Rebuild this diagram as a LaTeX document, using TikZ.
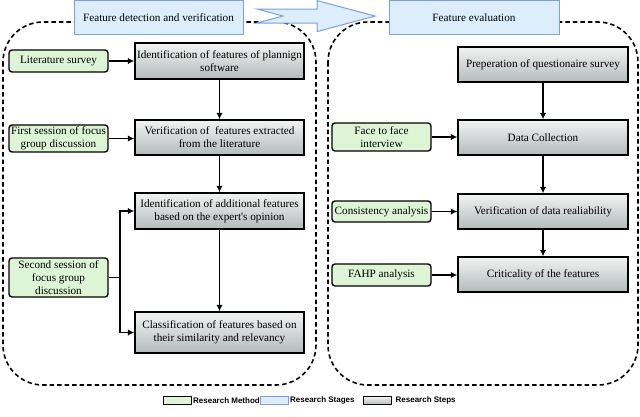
\documentclass[tikz,border=0pt]{standalone}
\usepackage{fontspec}
\setmainfont{Liberation Serif}
\newfontfamily\legendfont{Liberation Sans}
\usetikzlibrary{arrows.meta}
\definecolor{mgreen}{HTML}{DDF5D5}
\definecolor{sblue}{HTML}{DCEEFB}
\definecolor{sborder}{HTML}{7E9FD8}
\definecolor{gtop}{HTML}{F2F3F3}
\definecolor{gbot}{HTML}{B4BABA}
\begin{document}
\begin{tikzpicture}[x=1pt,y=-1pt,
  font=\fontsize{11.2}{13}\selectfont,
  method/.style={draw=black, line width=1.4pt, rounded corners=3pt, fill=mgreen,
    align=center, inner sep=1pt, minimum width=99pt},
  stepbox/.style={draw=black, line width=1.4pt, top color=gtop, bottom color=gbot,
    align=center, inner sep=1pt, minimum width=169pt},
  stage/.style={draw=sborder, line width=1pt, fill=sblue, align=center,
    minimum width=169pt, minimum height=34pt},
  region/.style={draw=black, dash pattern=on 4.5pt off 3pt, rounded corners=40pt, line width=1.6pt},
  conn/.style={-{Latex[length=6.5pt,width=6.5pt]}, line width=1.4pt},
  legbox/.style={line width=0.9pt, minimum width=28pt, minimum height=8pt, inner sep=0pt},
  legtext/.style={font=\legendfont\bfseries\fontsize{8}{9}\selectfont, inner sep=1.5pt, anchor=west}]
\useasboundingbox (0,0) rectangle (640,416);

% dashed regions
\draw[region] (3,22) rectangle (316,385);
\draw[region] (328,22) rectangle (638,385);

% stage boxes
\node[stage] (st1) at (158.5,17.5) {Feature detection and verification};
\node[stage, minimum width=170pt] (st2) at (474,17.5) {Feature evaluation};
\draw[sborder, fill=sblue, line width=1pt]
  (257,9) -- (317,9) -- (317,0.6) -- (375,16) -- (317,31.6) -- (317,23) -- (257,23) -- (283,16) -- cycle;

% left steps
\node[stepbox, minimum height=36pt] (id1) at (219.5,61) {Identification of features of plannign\\software};
\node[stepbox, minimum height=35pt] (ver) at (219.5,137.5) {Verification of\ \ features extracted\\from the literature};
\node[stepbox, minimum height=36pt] (addl) at (219.5,211) {Identification of additional features\\based on the expert\textquotesingle s opinion};
\node[stepbox, minimum height=41pt] (cls) at (219.5,332.5) {Classification of features based on\\their similarity and relevancy};

% right steps
\node[stepbox, minimum width=170pt, minimum height=35pt] (prep) at (543,64.5) {Preperation of questionaire survey};
\node[stepbox, minimum width=170pt, minimum height=35pt] (data) at (543,137.5) {Data Collection};
\node[stepbox, minimum width=170pt, minimum height=35pt] (vdr) at (543,211.5) {Verification of data realiability};
\node[stepbox, minimum width=170pt, minimum height=35pt] (crit) at (543,274.5) {Criticality of the features};

% methods
\node[method, minimum height=22pt] (lit) at (58.5,61) {Literature survey};
\node[method, minimum height=27pt] (fs) at (58.5,138.5) {First session of focus\\group discussion};
\node[method, minimum height=39pt] (ss) at (58.5,277.5) {Second session of\\focus group\\discussion};
\node[method, minimum height=28pt] (ff) at (381.5,137) {Face to face\\interview};
\node[method, minimum height=21pt] (ca) at (381.5,211.5) {Consistency analysis};
\node[method, minimum height=22pt] (fa) at (381.5,275) {FAHP analysis};

% connectors
\draw[conn] (lit.east) -- (lit.east -| id1.west);
\draw[conn] (fs.east) -- (fs.east -| ver.west);
\coordinate (br) at (120,277.5);
\draw[line width=1.4pt] (ss.east) -- (br);
\draw[conn] (br) |- (addl.west);
\draw[conn] (br) |- (cls.west);
\draw[conn] (id1.south) -- (ver.north);
\draw[conn] (ver.south) -- (addl.north);
\draw[conn] (addl.south) -- (cls.north);

\draw[conn] (ff.east) -- (ff.east -| data.west);
\draw[conn] (ca.east) -- (ca.east -| vdr.west);
\draw[conn] (fa.east) -- (fa.east -| crit.west);
\draw[conn] (prep.south) -- (data.north);
\draw[conn] (data.south) -- (vdr.north);
\draw[conn] (vdr.south) -- (crit.north);

% legend
\node[legbox, draw=black, fill=mgreen] (lg1) at (177,400.5) {};
\node[legtext] (lt1) at (lg1.east) {Research Method};
\node[legbox, draw=sborder, fill=sblue] (lg2) at (274,400.5) {};
\node[legtext] (lt2) at (lg2.east) {Research Stages};
\node[legbox, draw=black, top color=gtop, bottom color=gbot] (lg3) at (377.5,400.5) {};
\node[legtext, xshift=2pt] (lt3) at (lg3.east) {Research Steps};
\end{tikzpicture}
\end{document}
